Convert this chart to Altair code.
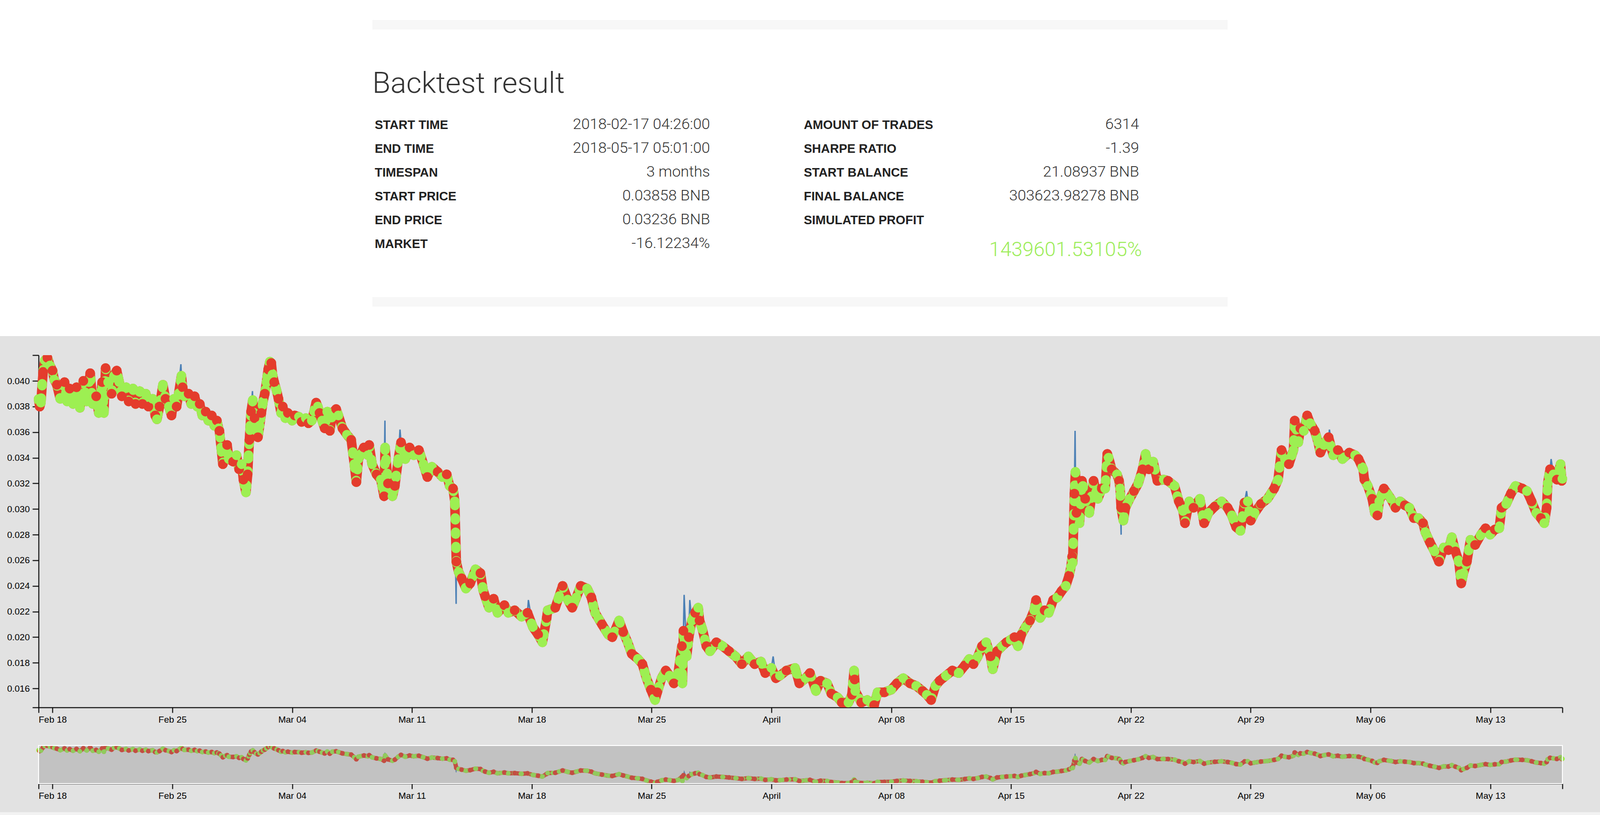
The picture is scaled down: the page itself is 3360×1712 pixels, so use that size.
import altair as alt
import pandas as pd

# ---------------- summary card ----------------
title_text = "Backtest result"
left_labels = ["START TIME", "END TIME", "TIMESPAN", "START PRICE", "END PRICE", "MARKET"]
left_values = ["2018-02-17 04:26:00", "2018-05-17 05:01:00", "3 months",
               "0.03858 BNB", "0.03236 BNB", "-16.12234%"]
right_labels = ["AMOUNT OF TRADES", "SHARPE RATIO", "START BALANCE", "FINAL BALANCE", "SIMULATED PROFIT"]
right_values = ["6314", "-1.39", "21.08937 BNB", "303623.98278 BNB", ""]
profit_text = "1439601.53105%"

# ---------------- price / trades (day offset from 2018-02-18 00:00, price in BNB) ----------------
trades_feb = [
    (-0.815, 0.03858), (-0.75, 0.0380), (-0.68, 0.0383), (-0.55, 0.0407), (-0.45, 0.0416), (-0.3, 0.0418),
    (-0.15, 0.0412), (0.0, 0.0408), (0.1, 0.0401), (0.25, 0.0397), (0.45, 0.0386), (0.7, 0.0399),
    (0.85, 0.0384), (1.0, 0.0394), (1.2, 0.0382), (1.4, 0.0395), (1.6, 0.0379), (1.8, 0.0400),
    (2.0, 0.0384), (2.2, 0.0406), (2.35, 0.0382), (2.55, 0.0388), (2.7, 0.0375), (2.9, 0.0399),
    (3.0, 0.0375), (3.1, 0.0410), (3.25, 0.0399), (3.45, 0.0390), (3.6, 0.0404), (3.75, 0.0408),
    (3.9, 0.0399), (4.05, 0.0388), (4.3, 0.0395), (4.45, 0.0384), (4.7, 0.0394), (4.85, 0.0382),
    (5.1, 0.0392), (5.25, 0.0382), (5.45, 0.0390), (5.6, 0.0380), (5.85, 0.0386), (6.0, 0.0373),
    (6.1, 0.0370), (6.25, 0.0380), (6.45, 0.0397), (6.6, 0.0386), (6.8, 0.0380), (6.95, 0.0373),
    (7.1, 0.0386), (7.25, 0.0380), (7.53, 0.0404), (7.6, 0.0395), (7.7, 0.0388), (7.95, 0.0390),
    (8.1, 0.0382), (8.3, 0.0388), (8.45, 0.0380), (8.6, 0.0382), (8.75, 0.0373), (8.95, 0.0376),
    (9.1, 0.0369), (9.3, 0.0373), (9.45, 0.0365), (9.6, 0.0369), (9.7, 0.0363), (9.75, 0.0361),
    (9.85, 0.0348), (9.95, 0.0335), (10.1, 0.0346), (10.2, 0.0350), (10.3, 0.0339), (10.55, 0.0337),
    (10.75, 0.0342), (10.9, 0.0331), (11.05, 0.0335), (11.15, 0.0323), (11.3, 0.0313), (11.4, 0.0327),
    (11.45, 0.0342), (11.5, 0.0354), (11.55, 0.0365), (11.6, 0.0376), (11.7, 0.0385), (11.8, 0.0371),
    (11.9, 0.0361), (12.0, 0.0356), (12.1, 0.0365), (12.2, 0.0375), (12.3, 0.0384), (12.4, 0.0390),
    (12.5, 0.0399), (12.6, 0.0409), (12.7, 0.0415), (12.78, 0.0414), (12.85, 0.0405), (12.95, 0.0399),
    (13.1, 0.0392), (13.2, 0.0386), (13.35, 0.0375), (13.45, 0.0380), (13.6, 0.0371), (13.75, 0.0375),
    (14.0, 0.0369), (14.15, 0.0373), (14.4, 0.0372), (14.55, 0.0368), (14.8, 0.0371), (14.95, 0.0367),
    (15.15, 0.0369), (15.4, 0.0383), (15.5, 0.0380), (15.6, 0.0375), (15.75, 0.0369), (15.9, 0.0363),
    (16.05, 0.0376), (16.2, 0.0361), (16.35, 0.0375),
]
trades_mar = [
    (16.57, 0.0378), (16.7, 0.0373), (16.94, 0.0363), (17.2, 0.0358), (17.45, 0.0354), (17.63, 0.0335),
    (17.75, 0.0321), (17.87, 0.0339), (18.19, 0.0348), (18.43, 0.0342), (18.5, 0.0350), (18.67, 0.0335),
    (18.93, 0.0327), (19.18, 0.0323), (19.37, 0.0310), (19.43, 0.0348), (19.6, 0.0320), (19.86, 0.0310),
    (20.0, 0.0318), (20.2, 0.0339), (20.36, 0.0352), (20.61, 0.0339), (20.86, 0.0348), (21.1, 0.0342),
    (21.4, 0.0346), (21.67, 0.0335), (21.9, 0.0325), (22.16, 0.0333), (22.5, 0.0329), (22.78, 0.0325),
    (23.03, 0.0327), (23.2, 0.0318), (23.4, 0.0316), (23.5, 0.0306), (23.59, 0.0259), (23.72, 0.0251),
    (23.9, 0.0246), (24.15, 0.0238), (24.4, 0.0242), (24.71, 0.0253), (25.0, 0.0250), (25.15, 0.0237),
    (25.27, 0.0232), (25.5, 0.0223), (25.77, 0.0230), (26.0, 0.0219), (26.4, 0.0225), (26.63, 0.0219),
    (27.0, 0.0221), (27.4, 0.0216), (27.75, 0.0219), (28.06, 0.0208), (28.37, 0.0202), (28.62, 0.0196),
    (28.87, 0.0215), (28.93, 0.0221), (29.37, 0.0223), (29.6, 0.0232), (29.8, 0.0240), (30.11, 0.0229),
    (30.36, 0.0223), (30.6, 0.0231), (30.86, 0.0240), (31.23, 0.0238), (31.48, 0.0231), (31.7, 0.0219),
    (32.1, 0.0210), (32.47, 0.0202), (32.7, 0.0200), (33.1, 0.0213), (33.34, 0.0204), (33.6, 0.0196),
    (33.84, 0.0187), (34.2, 0.0183), (34.46, 0.0179), (34.7, 0.0168), (34.96, 0.0159), (35.2, 0.0151),
    (35.33, 0.0157), (35.58, 0.0168), (35.83, 0.0174), (36.05, 0.0170), (36.3, 0.0164), (36.55, 0.0172),
    (36.77, 0.0193), (36.8, 0.0164), (36.86, 0.0205), (37.05, 0.0185), (37.17, 0.0200), (37.35, 0.0213),
    (37.54, 0.0219), (37.72, 0.0223), (37.8, 0.0213), (37.97, 0.0206), (38.2, 0.0193), (38.41, 0.0189),
    (38.78, 0.0196), (39.15, 0.0193), (39.53, 0.0189), (39.9, 0.0185), (40.27, 0.0179), (40.65, 0.0185),
    (41.02, 0.0179), (41.39, 0.0181), (41.64, 0.0172),
]
trades_apr = [
    (42.0, 0.0176), (42.26, 0.0168), (42.5, 0.0170), (42.88, 0.0174), (43.38, 0.0176), (43.63, 0.0164),
    (44.0, 0.0168), (44.25, 0.0172), (44.6, 0.0158), (44.87, 0.0166), (45.25, 0.0164), (45.5, 0.0156),
    (45.87, 0.0153), (46.11, 0.0149), (46.5, 0.0149), (46.7, 0.0155), (46.83, 0.0174), (46.86, 0.0167),
    (46.9, 0.0158), (47.25, 0.0149), (47.6, 0.0151), (48.0, 0.0147), (48.2, 0.0157), (48.6, 0.0157),
    (49.0, 0.0159), (49.33, 0.0164), (49.7, 0.0168), (50.1, 0.0164), (50.46, 0.0162), (50.83, 0.0158),
    (51.08, 0.0155), (51.33, 0.0151), (51.58, 0.0162), (51.83, 0.0166), (52.2, 0.0170), (52.57, 0.0174),
    (52.94, 0.0172), (53.3, 0.0178), (53.56, 0.0183), (53.8, 0.0179), (54.06, 0.0185), (54.3, 0.0193),
    (54.55, 0.0196), (54.8, 0.0185), (54.93, 0.0175), (55.18, 0.0189), (55.48, 0.0193), (55.73, 0.0196),
    (55.98, 0.0198), (56.2, 0.0200), (56.4, 0.0193), (56.6, 0.0202), (56.85, 0.0208), (57.1, 0.0213),
    (57.35, 0.0221), (57.46, 0.0229), (57.7, 0.0215), (57.96, 0.0221), (58.2, 0.0219), (58.46, 0.0229),
    (58.7, 0.0231), (58.95, 0.0236), (59.2, 0.0240), (59.39, 0.0248), (59.5, 0.0255), (59.57, 0.0263),
    (59.6, 0.0258), (59.7, 0.0312), (59.76, 0.0329), (59.82, 0.0297), (60.0, 0.0289), (60.14, 0.0322),
    (60.2, 0.0318), (60.33, 0.0308), (60.57, 0.0297), (60.82, 0.0322), (61.07, 0.0308), (61.3, 0.0316),
    (61.5, 0.0316), (61.62, 0.0343), (61.7, 0.0340), (61.88, 0.0331), (62.19, 0.0327), (62.31, 0.0322),
    (62.37, 0.0316), (62.43, 0.0301), (62.56, 0.0291), (62.68, 0.0301), (62.93, 0.0308), (63.18, 0.0314),
    (63.43, 0.0320), (63.68, 0.0331), (63.86, 0.0343), (64.05, 0.0331), (64.3, 0.0337), (64.55, 0.0322),
    (64.92, 0.0323), (65.17, 0.0322), (65.55, 0.0318), (65.8, 0.0306), (66.04, 0.0299), (66.16, 0.0289),
    (66.41, 0.0306), (66.66, 0.0301), (67.03, 0.0308), (67.28, 0.0289), (67.53, 0.0297), (67.9, 0.0302),
    (68.3, 0.0306), (68.65, 0.0301), (68.9, 0.0295), (69.15, 0.0286), (69.4, 0.0283), (69.64, 0.0305),
    (69.83, 0.0306), (70.0, 0.0291), (70.23, 0.0297), (70.6, 0.0304), (70.98, 0.0308), (71.37, 0.0316),
    (71.6, 0.0323), (71.8, 0.0346),
]
trades_may = [
    (72.0, 0.0339), (72.23, 0.0335), (72.5, 0.0346), (72.57, 0.0369), (72.78, 0.0352), (72.9, 0.0363),
    (73.1, 0.0361), (73.3, 0.0373), (73.47, 0.0367), (73.74, 0.0361), (73.94, 0.0352), (74.07, 0.0344),
    (74.28, 0.0350), (74.55, 0.0356), (74.82, 0.0342), (75.09, 0.0346), (75.36, 0.0339), (75.76, 0.0344),
    (76.1, 0.0342), (76.3, 0.0339), (76.57, 0.0331), (76.64, 0.0323), (76.84, 0.0318), (77.1, 0.0308),
    (77.25, 0.0297), (77.4, 0.0295), (77.51, 0.0306), (77.78, 0.0316), (78.19, 0.0308), (78.46, 0.0301),
    (78.73, 0.0306), (79.0, 0.0303), (79.27, 0.0301), (79.53, 0.0293), (79.8, 0.0293), (80.07, 0.0289),
    (80.2, 0.0282), (80.47, 0.0274), (80.74, 0.0267), (81.0, 0.0259), (81.28, 0.0270), (81.55, 0.0268),
    (81.75, 0.0278), (81.96, 0.0267), (82.16, 0.0259), (82.3, 0.0242), (82.43, 0.0250), (82.63, 0.0259),
    (82.84, 0.0276), (83.11, 0.0272), (83.45, 0.0280), (83.72, 0.0285), (83.99, 0.0280), (84.26, 0.0284),
    (84.52, 0.0285), (84.66, 0.0301), (84.93, 0.0304), (85.2, 0.0312), (85.47, 0.0318), (85.87, 0.0316),
    (86.14, 0.0314), (86.41, 0.0306), (86.68, 0.0297), (86.95, 0.0293), (87.15, 0.0289), (87.29, 0.0301),
    (87.35, 0.0320), (87.49, 0.0331), (87.69, 0.0327), (87.89, 0.0323), (88.1, 0.0335), (88.17, 0.0322),
    (88.209, 0.03236),
]
# price wicks visible on the blue line only (no trade marker)
spike_days = [7.5, 11.68, 19.42, 20.3, 23.58, 27.8, 36.9, 37.23, 42.1, 59.74, 62.43, 69.76, 74.6, 87.55]
spike_prices = [0.0413, 0.0392, 0.0369, 0.0362, 0.0226, 0.0229, 0.0233, 0.0229, 0.0185, 0.0361,
                0.0280, 0.0314, 0.0362, 0.0339]

# ---------------- tables ----------------
base = pd.Timestamp("2018-02-18 00:00")
pairs = trades_feb + trades_mar + trades_apr + trades_may
t_days = [p[0] for p in pairs]
t_prices = [p[1] for p in pairs]
trades = pd.DataFrame({
    "time": base + pd.to_timedelta(t_days, unit="D"),
    "price": t_prices,
    "side": ["buy" if i % 2 == 0 else "sell" for i in range(len(pairs))],
})
line_df = pd.concat([
    pd.DataFrame({"day": t_days, "price": t_prices}),
    pd.DataFrame({"day": spike_days, "price": spike_prices}),
]).sort_values("day")
line_df["time"] = base + pd.to_timedelta(line_df["day"], unit="D")
line_df = line_df[["time", "price"]]

left_df = pd.DataFrame({"row": list(range(len(left_labels))), "label": left_labels, "value": left_values})
right_df = pd.DataFrame({"row": list(range(len(right_labels))), "label": right_labels, "value": right_values})

# ---------------- styling ----------------
W = 3360
GREEN = "#9def52"
RED = "#e43c2c"
BLUE = "#4a7fb5"
AXFONT = "Liberation Sans"

x_start = alt.DateTime(year=2018, month=2, date=17, hours=4, minutes=26)
x_end = alt.DateTime(year=2018, month=5, date=17, hours=5, minutes=1)
sundays = [(2, 18), (2, 25), (3, 4), (3, 11), (3, 18), (3, 25), (4, 1), (4, 8), (4, 15), (4, 22),
           (4, 29), (5, 6), (5, 13)]
x_tick_values = [x_start] + [alt.DateTime(year=2018, month=m, date=d) for m, d in sundays] + [x_end]
x_scale = alt.Scale(domain=[x_start, x_end], range=[81, 3281])

y_min, y_max = 0.01452, 0.04201
y_ticks = [y_min] + [round(0.016 + 0.002 * i, 3) for i in range(13)] + [y_max]


def x_axis():
    return alt.Axis(values=x_tick_values, title=None, grid=False,
                    labelExpr="hours(datum.value) != 0 ? '' : (date(datum.value) == 1 ? "
                              "timeFormat(datum.value, '%B') : timeFormat(datum.value, '%b %d'))",
                    domainColor="black", domainWidth=2, tickColor="black", tickWidth=2, tickSize=11,
                    labelFont=AXFONT, labelFontSize=19, labelColor="black", labelPadding=5,
                    labelFlush=False, labelOverlap=False)


one = alt.Data(values=[{}])

# ---------------- top card ----------------
def rect(x1, x2, y1, y2, color):
    return alt.Chart(one).mark_rect(color=color).encode(
        x=alt.value(x1), x2=alt.value(x2), y=alt.value(y1), y2=alt.value(y2))


row_scale = alt.Scale(domain=[0, 5], range=[271, 521], nice=False, zero=False)

title_layer = alt.Chart(pd.DataFrame({"t": [title_text]})).mark_text(
    align="left", baseline="alphabetic", font="Roboto", fontWeight=300, fontSize=62, color="#333333"
).encode(x=alt.value(782), y=alt.value(195), text="t:N")


def label_layer(df, x):
    return alt.Chart(df).mark_text(
        align="left", baseline="alphabetic", font=AXFONT, fontWeight="bold", fontSize=26, color="#222222"
    ).encode(x=alt.value(x), y=alt.Y("row:Q", scale=row_scale, axis=None), text="label:N")


def value_layer(df, x):
    return alt.Chart(df).mark_text(
        align="right", baseline="alphabetic", font="Roboto", fontWeight=300, fontSize=32, color="#333333"
    ).encode(x=alt.value(x), y=alt.Y("row:Q", scale=row_scale, axis=None), text="value:N")


profit_layer = alt.Chart(pd.DataFrame({"t": [profit_text]})).mark_text(
    align="right", baseline="alphabetic", font="Roboto", fontWeight=300, fontSize=42, color="#9ded5a"
).encode(x=alt.value(2398), y=alt.value(538), text="t:N")

top = alt.layer(
    rect(0, W, 0, 706, "white"),
    rect(782, 2578, 42, 62, "#f7f7f7"),
    rect(782, 2578, 624, 644, "#f7f7f7"),
    title_layer,
    label_layer(left_df, 787), value_layer(left_df, 1491),
    label_layer(right_df, 1688), value_layer(right_df, 2392),
    profit_layer,
).properties(width=W, height=666)

# ---------------- main chart ----------------
y_main = alt.Y("price:Q", scale=alt.Scale(domain=[y_min, y_max], nice=False, zero=False),
               axis=alt.Axis(values=y_ticks, title=None, grid=False, offset=-81,
                             labelExpr="datum.value < 0.0155 || datum.value > 0.041 ? '' : format(datum.value, '.3f')",
                             domainColor="black", domainWidth=2, tickColor="black", tickWidth=2,
                             tickSize=13, labelFont=AXFONT, labelFontSize=19, labelColor="black",
                             labelPadding=6, labelFlush=False, labelOverlap=False))
color_enc = alt.Color("side:N", scale=alt.Scale(domain=["buy", "sell"], range=[GREEN, RED]), legend=None)


def trail(color, width, dash=None):
    kw = dict(color=color, strokeWidth=width, strokeCap="round", strokeJoin="round", clip=True)
    if dash:
        kw["strokeDash"] = dash
    return alt.Chart(trades).mark_line(**kw).encode(
        x=alt.X("time:T", scale=x_scale), y=alt.Y("price:Q"))


main_line = alt.Chart(line_df).mark_line(color=BLUE, strokeWidth=3, clip=True).encode(
    x=alt.X("time:T", scale=x_scale, axis=x_axis()), y=y_main)
main_pts = alt.Chart(trades).mark_circle(size=420, opacity=1, clip=True).encode(
    x=alt.X("time:T", scale=x_scale), y=alt.Y("price:Q"), color=color_enc)
main = alt.layer(main_line, trail(RED, 20), trail(GREEN, 20, [4, 26]), main_pts).properties(width=W, height=740)

# ---------------- overview (context) ----------------
y_ctx = alt.Y("price:Q", scale=alt.Scale(domain=[y_min, y_max], nice=False, zero=False), axis=None)
ctx_line = alt.Chart(line_df).mark_line(color=BLUE, strokeWidth=1.5, clip=True).encode(
    x=alt.X("time:T", scale=x_scale, axis=x_axis()), y=y_ctx)
ctx_pts = alt.Chart(trades).mark_circle(size=100, opacity=1, clip=True).encode(
    x=alt.X("time:T", scale=x_scale), y=alt.Y("price:Q"), color=color_enc)
brush = alt.Chart(one).mark_rect(fill="#777777", fillOpacity=0.3, stroke="white", strokeWidth=2).encode(
    x=alt.value(81), x2=alt.value(3281), y=alt.value(0), y2=alt.value(80))
strip = rect(0, W, 140, 146, "#f2f2f2")
ctx = alt.layer(ctx_line, trail(RED, 9), trail(GREEN, 9, [2, 12]), ctx_pts, brush, strip).properties(
    width=W, height=80)

chart = alt.vconcat(top, main, ctx, spacing=80, bounds="flush").properties(
    padding=0
).configure(background="#e2e2e2", font=AXFONT).configure_view(stroke=None)

chart.save("out.html", embed_options={"renderer": "svg", "actions": False})
